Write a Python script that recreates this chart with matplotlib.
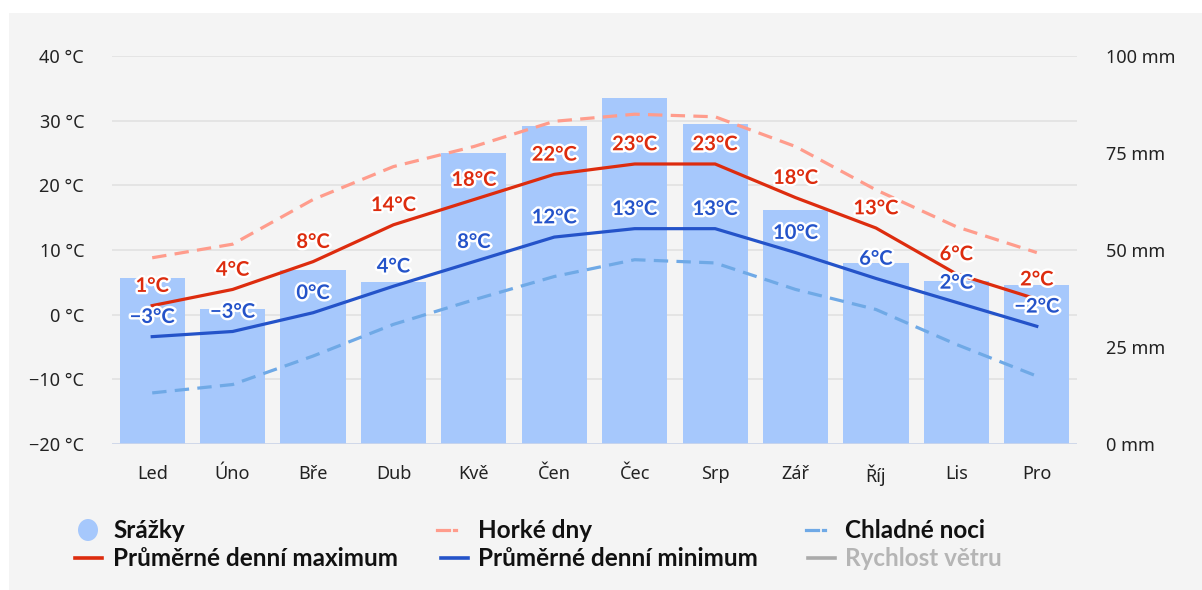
import matplotlib
matplotlib.use("Agg")
import matplotlib.pyplot as plt
import matplotlib.patheffects as pe
from matplotlib.lines import Line2D
from matplotlib.patches import Rectangle, Ellipse
import numpy as np

plt.rcParams['font.family'] = ['Noto Sans', 'DejaVu Sans']
BOLD_FAM = ['Lato', 'DejaVu Sans']

months = ["Led", "Úno", "Bře", "Dub", "Kvě", "Čen", "Čec", "Srp", "Zář", "Říj", "Lis", "Pro"]
precip_mm = [42.8, 34.8, 44.8, 41.8, 75.0, 82.0, 89.2, 82.5, 60.3, 46.6, 42.0, 41.0]
avg_max = [1.4, 3.9, 8.2, 13.9, 17.8, 21.7, 23.3, 23.3, 18.1, 13.4, 6.3, 2.4]
avg_min = [-3.4, -2.6, 0.3, 4.4, 8.2, 12.0, 13.3, 13.3, 9.6, 5.6, 1.9, -1.8]
hot_days = [8.8, 10.9, 17.8, 22.9, 26.0, 29.9, 31.0, 30.6, 26.0, 19.3, 13.6, 9.6]
cold_nights = [-12.1, -10.8, -6.4, -1.5, 2.3, 5.9, 8.5, 8.0, 3.9, 0.8, -4.6, -9.5]
temp_ticks = [-20, -10, 0, 10, 20, 30, 40]
mm_ticks = [0, 25, 50, 75, 100]

C_BAR = "#a6c8fc"
C_MAX = "#dd2c0e"
C_MIN = "#2453c9"
C_HOT = "#ff9c8c"
C_COLD = "#6fa9e6"
C_GRID = "#e3e3e3"
C_BG = "#f4f4f4"

W, H = 1202, 590
fig = plt.figure(figsize=(W / 100, H / 100), dpi=100, facecolor="white")
fig.add_artist(Rectangle((9 / W, 0), 1, 1 - 13 / H, transform=fig.transFigure,
                         facecolor=C_BG, edgecolor="none", zorder=-10))

left, right, top, bottom = 112 / W, 1077 / W, 56 / H, 444 / H
pos = [left, 1 - bottom, right - left, bottom - top]

x = np.arange(len(months))

# temperature axis (grid + left ticks)
ax_t = fig.add_axes(pos)
ax_t.patch.set_visible(False)
ax_t.set_ylim(-20, 40)
ax_t.set_xlim(-0.5, len(months) - 0.5)
ax_t.set_yticks(temp_ticks)
ax_t.set_yticklabels([f"{t} °C".replace("-", "−") for t in temp_ticks])
ax_t.set_xticks(x)
ax_t.set_xticklabels(months)
ax_t.grid(axis="y", color=C_GRID, linewidth=1.3)
ax_t.tick_params(length=0, labelsize=13, colors="#222222")
ax_t.tick_params(axis="x", pad=15)
ax_t.tick_params(axis="y", pad=20)
for s in ax_t.spines.values():
    s.set_visible(False)

# precipitation axis (bars, right ticks)
ax_p = ax_t.twinx()
ax_p.set_zorder(ax_t.get_zorder() + 1)
ax_p.patch.set_visible(False)
ax_p.bar(x, precip_mm, width=0.81, color=C_BAR, zorder=2)
ax_p.set_ylim(0, 100)
ax_p.set_yticks(mm_ticks)
ax_p.set_yticklabels([f"{m} mm" for m in mm_ticks])
ax_p.tick_params(length=0, labelsize=13, colors="#222222", pad=21)
for s in ax_p.spines.values():
    s.set_visible(False)
ax_p.axhline(0, color="#ccd6eb", linewidth=1.2, zorder=3)

# lines axis on top
ax_l = fig.add_axes(pos, sharex=ax_t, sharey=ax_t)
ax_l.set_zorder(ax_p.get_zorder() + 1)
ax_l.patch.set_visible(False)
ax_l.axis("off")

ax_l.plot(x, hot_days, color=C_HOT, lw=2.3, dashes=(4.5, 2.6), solid_capstyle="butt")
ax_l.plot(x, cold_nights, color=C_COLD, lw=2.3, dashes=(4.5, 2.6), solid_capstyle="butt")
ax_l.plot(x, avg_max, color=C_MAX, lw=2.3)
ax_l.plot(x, avg_min, color=C_MIN, lw=2.3)

stroke = [pe.withStroke(linewidth=3.5, foreground="white")]
for xi, v in zip(x, avg_max):
    ax_l.annotate(f"{int(round(v))}°C".replace("-", "−"), (xi, v), xytext=(0, 7),
                  textcoords="offset points", ha="center", va="bottom", family=BOLD_FAM,
                  fontsize=14.5, fontweight="bold", color=C_MAX, path_effects=stroke)
for xi, v in zip(x, avg_min):
    ax_l.annotate(f"{int(round(v))}°C".replace("-", "−"), (xi, v), xytext=(0, 7),
                  textcoords="offset points", ha="center", va="bottom", family=BOLD_FAM,
                  fontsize=14.5, fontweight="bold", color=C_MIN, path_effects=stroke)

# legend (manual)
def fx(px):
    return px / W

def fy(py):
    return 1 - py / H

leg_fs = 17.5
rows = [530, 558]
tkw = dict(fontsize=leg_fs, fontweight="bold", va="center", family=BOLD_FAM)
fig.add_artist(Ellipse((fx(88), fy(rows[0])), 20 / W, 22 / H, transform=fig.transFigure,
                       facecolor=C_BAR, edgecolor="none"))
fig.text(fx(113), fy(rows[0]), "Srážky", color="#111111", **tkw)

fig.add_artist(Line2D([fx(437), fx(449)], [fy(rows[0])] * 2, color=C_HOT, lw=2.3, transform=fig.transFigure))
fig.add_artist(Line2D([fx(454), fx(456)], [fy(rows[0])] * 2, color=C_HOT, lw=2.3, transform=fig.transFigure))
fig.text(fx(478), fy(rows[0]), "Horké dny", color="#111111", **tkw)

fig.add_artist(Line2D([fx(806), fx(818)], [fy(rows[0])] * 2, color=C_COLD, lw=2.3, transform=fig.transFigure))
fig.add_artist(Line2D([fx(823), fx(825)], [fy(rows[0])] * 2, color=C_COLD, lw=2.3, transform=fig.transFigure))
fig.text(fx(845), fy(rows[0]), "Chladné noci", color="#111111", **tkw)

fig.add_artist(Line2D([fx(75), fx(102)], [fy(rows[1])] * 2, color=C_MAX, lw=2.6, transform=fig.transFigure))
fig.text(fx(113), fy(rows[1]), "Průměrné denní maximum", color="#111111", **tkw)

fig.add_artist(Line2D([fx(441), fx(468)], [fy(rows[1])] * 2, color=C_MIN, lw=2.6, transform=fig.transFigure))
fig.text(fx(478), fy(rows[1]), "Průměrné denní minimum", color="#111111", **tkw)

fig.add_artist(Line2D([fx(808), fx(835)], [fy(rows[1])] * 2, color="#aaaaaa", lw=2.6, transform=fig.transFigure))
fig.text(fx(845), fy(rows[1]), "Rychlost větru", color="#b5b5b5", **tkw)

fig.savefig("out.png", dpi=100, facecolor="white")
